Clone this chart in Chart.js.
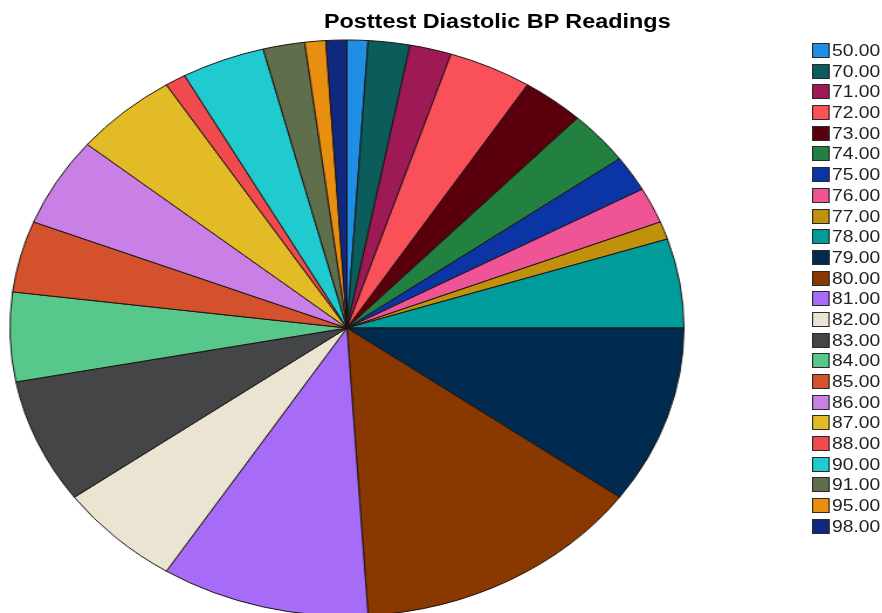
<!DOCTYPE html>
<html>
<head>
<meta charset="utf-8">
<title>Posttest Diastolic BP Readings</title>
<script src="https://cdn.jsdelivr.net/npm/chart.js@4.4.1/dist/chart.umd.min.js"></script>
<style>
  body { margin: 0; background: #fff; overflow: hidden; }
  /* whole figure is drawn at natural size then widened, like the exported plot */
  #stage {
    position: absolute; left: 0; top: 0;
    width: 754px; height: 613px;
    transform: scaleX(1.1701); transform-origin: 0 0;
    font-family: "Liberation Sans", Arial, sans-serif;
  }
  #pie { position: absolute; left: 0; top: 0; }
  #title {
    position: absolute; left: 225px; width: 400px; top: 10px;
    text-align: center; font-weight: bold; font-size: 20px; color: #000;
  }
  #legend { position: absolute; left: 694px; top: 43px; margin: 0; padding: 0; list-style: none; }
  #legend li { display: flex; align-items: center; height: 15px; margin-bottom: 5.7px;
    font-size: 16.5px; line-height: 15px; color: #222; }
  #legend .box { width: 14.5px; height: 15px; box-sizing: border-box;
    border: 1px solid #2a2a2a; margin-right: 2.5px; }
</style>
</head>
<body>
<div id="stage">
  <canvas id="pie" width="593" height="656"></canvas>
  <div id="title">Posttest Diastolic BP Readings</div>
  <ul id="legend"></ul>
</div>
<script>
// readings and how many subjects had each
const readings = ["50.00", "70.00", "71.00", "72.00", "73.00", "74.00", "75.00", "76.00",
  "77.00", "78.00", "79.00", "80.00", "81.00", "82.00", "83.00", "84.00", "85.00",
  "86.00", "87.00", "88.00", "90.00", "91.00", "95.00", "98.00"];
const counts = [1, 2, 2, 4, 3, 3, 2, 2, 1, 5, 10, 14, 10, 6, 7, 5, 4, 5, 5, 1, 4, 2, 1, 1];

const palette = ["#1f8fe6", "#0a5d5b", "#9e1a56", "#f9505a", "#5a000d", "#228141",
  "#0b35a5", "#ef5497", "#c1910c", "#009c9c", "#002a4f", "#893800", "#a76cf7",
  "#ece4d2", "#444547", "#57c78b", "#d4512e", "#c87fe6", "#e2bb26", "#ef4a4e",
  "#1fcbcf", "#5f6f4b", "#e88f10", "#10297f"];

const chart = new Chart(document.getElementById("pie"), {
  type: "pie",
  data: {
    labels: readings,
    datasets: [{
      data: counts,
      backgroundColor: palette,
      borderColor: "#1b1210",
      borderWidth: 1,
      radius: 288
    }]
  },
  options: {
    responsive: false,
    animation: false,
    devicePixelRatio: 1,
    layout: { padding: 0 },
    plugins: {
      legend: { display: false },
      tooltip: { enabled: false }
    }
  }
});

// legend list built from the chart's own label items
const legendEl = document.getElementById("legend");
const items = Chart.overrides.pie.plugins.legend.labels.generateLabels(chart);
items.forEach(item => {
  const li = document.createElement("li");
  const box = document.createElement("span");
  box.className = "box";
  box.style.background = item.fillStyle;
  li.appendChild(box);
  li.appendChild(document.createTextNode(item.text));
  legendEl.appendChild(li);
});
</script>
</body>
</html>
